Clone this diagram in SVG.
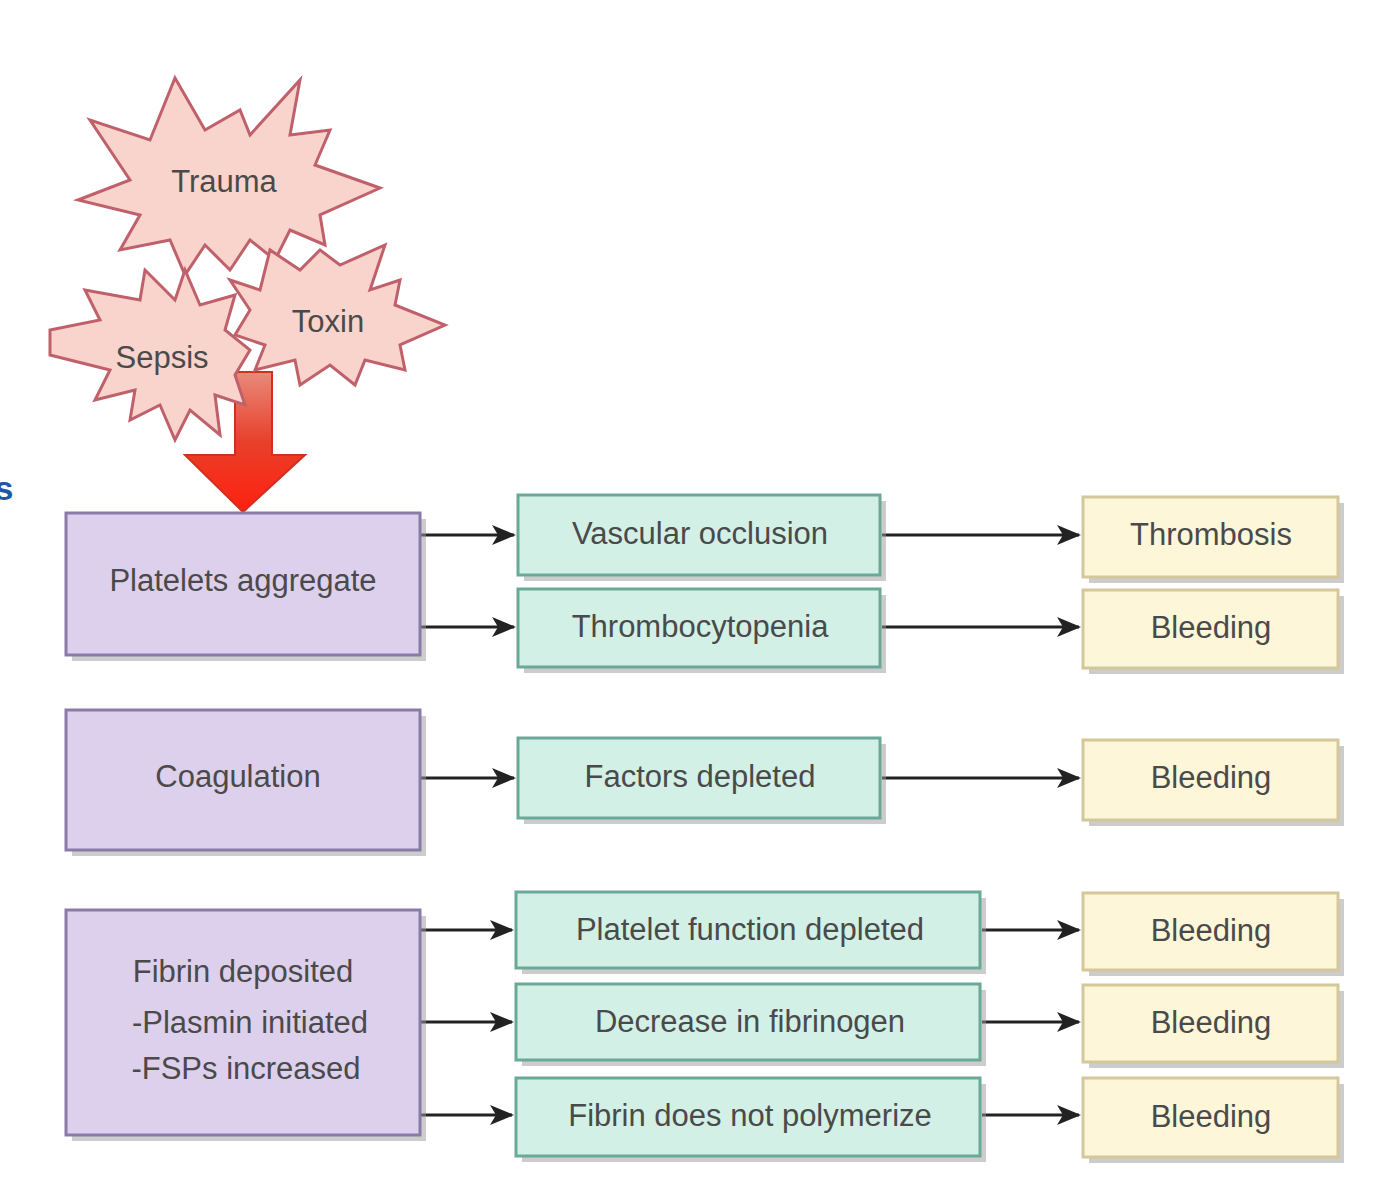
<svg xmlns="http://www.w3.org/2000/svg" width="1398" height="1200" viewBox="0 0 1398 1200">
<defs>
<marker id="ah" markerWidth="10" markerHeight="10" refX="9" refY="5" orient="auto" markerUnits="userSpaceOnUse" viewBox="0 0 10 10"><path d="M0,0 L10,5 L0,10 z" fill="#222"/></marker>
<marker id="ah2" markerWidth="24" markerHeight="24" refX="22" refY="12" orient="auto" markerUnits="userSpaceOnUse" viewBox="0 0 24 24"><path d="M0,2 L24,12 L0,22 L6,12 z" fill="#222"/></marker>
<linearGradient id="red" x1="0" y1="0" x2="0" y2="1"><stop offset="0" stop-color="#e88a7a"/><stop offset="0.5" stop-color="#e8402a"/><stop offset="1" stop-color="#ff2010"/></linearGradient>
</defs>
<style>
text{font-family:"Liberation Sans",Arial,sans-serif;font-size:31px;fill:#4a4a4a;text-anchor:middle}
.p{fill:#ddd0ec;stroke:#8a7aa8;stroke-width:3}
.t{fill:#d2f0e6;stroke:#6aa898;stroke-width:3}
.y{fill:#fdf6d8;stroke:#d4c89a;stroke-width:3}
.sh{fill:#9a9a9a;opacity:0.5}
.star{fill:#f8d4cc;stroke:#c0606a;stroke-width:3}
.c{stroke:#222;stroke-width:3;fill:none;marker-end:url(#ah2)}
</style>
<rect width="1398" height="1200" fill="#fff"/>
<text x="4" y="500" style="fill:#1f5aa0;font-weight:bold;font-size:34px">s</text>
<g id="arrow-red">
<path d="M235,372 L272,372 L272,455 L305,455 L243,512 L185,455 L235,455 z" fill="url(#red)" stroke="#d03020" stroke-width="2"/>
</g>
<g id="trauma">
<polygon class="star" points="175,78 205,130 240,110 250,135 300,80 290,135 330,130 315,165 380,188 320,215 325,245 290,230 275,260 250,240 230,270 205,245 185,275 170,240 120,250 140,215 78,200 130,180 90,120 150,140"/>
<text x="224" y="192">Trauma</text>
</g>
<g id="sepsis">
<polygon class="star" points="50,330 100,320 85,290 140,300 145,270 175,300 185,270 200,305 235,295 225,330 250,350 235,375 245,405 215,395 220,435 190,410 175,440 160,405 130,420 135,390 95,400 110,370 50,355"/>
<text x="162" y="368">Sepsis</text>
</g>
<g id="toxin">
<polygon class="star" points="230,280 260,290 270,250 300,270 320,250 340,265 385,245 370,290 400,280 395,305 445,325 400,345 405,370 365,360 355,385 330,365 300,385 295,360 255,370 265,345 235,335 250,310"/>
<text x="328" y="332">Toxin</text>
</g>
<g id="connectors">
<line class="c" x1="420" y1="535" x2="514" y2="535"/>
<line class="c" x1="420" y1="627" x2="514" y2="627"/>
<line class="c" x1="420" y1="778" x2="514" y2="778"/>
<line class="c" x1="420" y1="930" x2="512" y2="930"/>
<line class="c" x1="420" y1="1022" x2="512" y2="1022"/>
<line class="c" x1="420" y1="1115" x2="512" y2="1115"/>
<line class="c" x1="882" y1="535" x2="1079" y2="535"/>
<line class="c" x1="882" y1="627" x2="1079" y2="627"/>
<line class="c" x1="882" y1="778" x2="1079" y2="778"/>
<line class="c" x1="982" y1="930" x2="1079" y2="930"/>
<line class="c" x1="982" y1="1022" x2="1079" y2="1022"/>
<line class="c" x1="982" y1="1115" x2="1079" y2="1115"/>
</g>
<g id="platelets-aggregate"><rect class="sh" x="72" y="519" width="354" height="142"/><rect class="p" x="66" y="513" width="354" height="142"/><text x="243" y="591">Platelets aggregate</text></g>
<g id="coagulation"><rect class="sh" x="72" y="716" width="354" height="140"/><rect class="p" x="66" y="710" width="354" height="140"/><text x="238" y="787">Coagulation</text></g>
<g id="fibrin-deposited"><rect class="sh" x="72" y="916" width="354" height="225"/><rect class="p" x="66" y="910" width="354" height="225"/><text x="243" y="982">Fibrin deposited</text><text x="250" y="1033">-Plasmin initiated</text><text x="246" y="1079">-FSPs increased</text></g>
<g id="vascular-occlusion"><rect class="sh" x="524" y="501" width="362" height="80"/><rect class="t" x="518" y="495" width="362" height="80"/><text x="700" y="544">Vascular occlusion</text></g>
<g id="thrombocytopenia"><rect class="sh" x="524" y="595" width="362" height="78"/><rect class="t" x="518" y="589" width="362" height="78"/><text x="700" y="637">Thrombocytopenia</text></g>
<g id="factors-depleted"><rect class="sh" x="524" y="744" width="362" height="80"/><rect class="t" x="518" y="738" width="362" height="80"/><text x="700" y="787">Factors depleted</text></g>
<g id="platelet-function"><rect class="sh" x="522" y="898" width="464" height="76"/><rect class="t" x="516" y="892" width="464" height="76"/><text x="750" y="940">Platelet function depleted</text></g>
<g id="decrease-fibrinogen"><rect class="sh" x="522" y="990" width="464" height="76"/><rect class="t" x="516" y="984" width="464" height="76"/><text x="750" y="1032">Decrease in fibrinogen</text></g>
<g id="fibrin-not-polymerize"><rect class="sh" x="522" y="1084" width="464" height="78"/><rect class="t" x="516" y="1078" width="464" height="78"/><text x="750" y="1126">Fibrin does not polymerize</text></g>
<g id="thrombosis"><rect class="sh" x="1089" y="503" width="255" height="80"/><rect class="y" x="1083" y="497" width="255" height="80"/><text x="1211" y="545">Thrombosis</text></g>
<g id="bleeding1"><rect class="sh" x="1089" y="596" width="255" height="78"/><rect class="y" x="1083" y="590" width="255" height="78"/><text x="1211" y="638">Bleeding</text></g>
<g id="bleeding2"><rect class="sh" x="1089" y="746" width="255" height="80"/><rect class="y" x="1083" y="740" width="255" height="80"/><text x="1211" y="788">Bleeding</text></g>
<g id="bleeding3"><rect class="sh" x="1089" y="899" width="255" height="77"/><rect class="y" x="1083" y="893" width="255" height="77"/><text x="1211" y="941">Bleeding</text></g>
<g id="bleeding4"><rect class="sh" x="1089" y="991" width="255" height="77"/><rect class="y" x="1083" y="985" width="255" height="77"/><text x="1211" y="1033">Bleeding</text></g>
<g id="bleeding5"><rect class="sh" x="1089" y="1084" width="255" height="79"/><rect class="y" x="1083" y="1078" width="255" height="79"/><text x="1211" y="1127">Bleeding</text></g>
</svg>
